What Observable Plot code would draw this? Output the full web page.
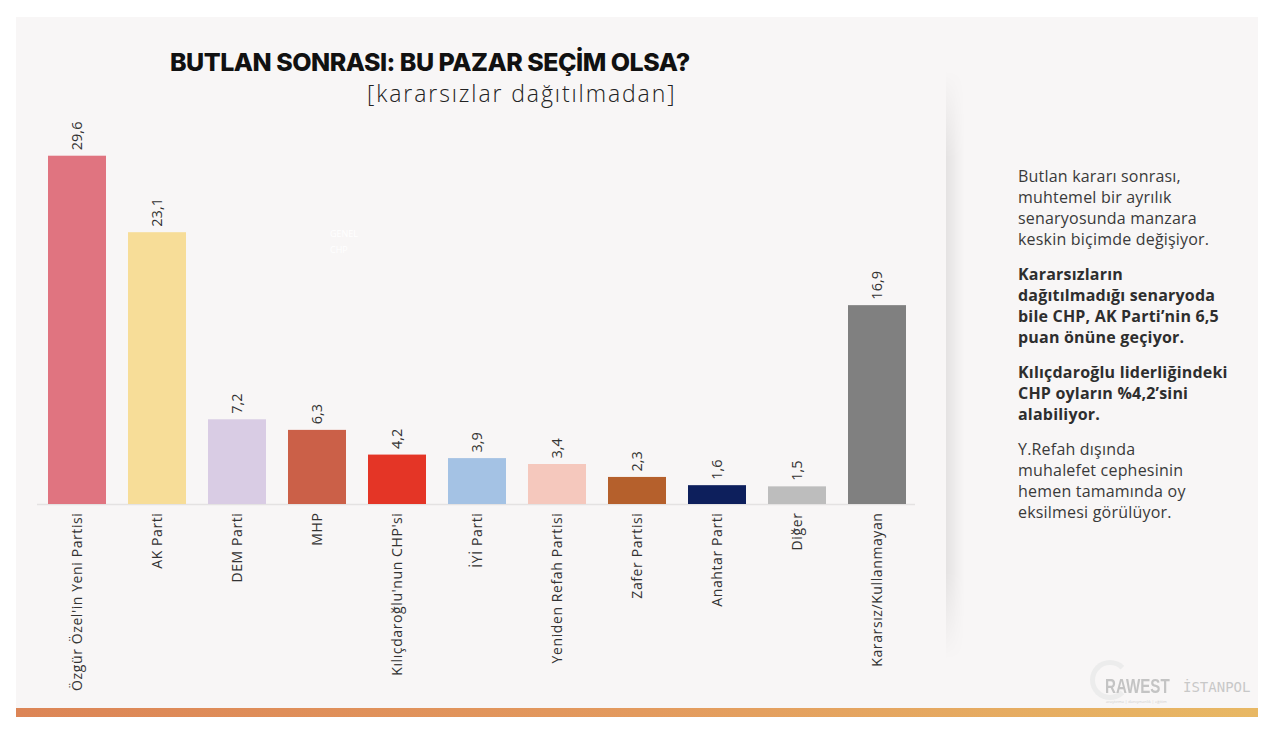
<!DOCTYPE html>
<html>
<head>
<meta charset="utf-8">
<script src="https://cdn.jsdelivr.net/npm/d3@7"></script>
<script src="https://cdn.jsdelivr.net/npm/@observablehq/plot@0.6"></script>
<style>
  html, body { margin: 0; padding: 0; background: #ffffff; width: 1280px; height: 741px; overflow: hidden; }
  body { position: relative; font-family: "Open Sans", sans-serif; }
  #card { position: absolute; left: 16px; top: 17px; width: 1242px; height: 691px; background: #f8f6f6; }
  #band { position: absolute; left: 16px; top: 708px; width: 1242px; height: 9px;
          background: linear-gradient(to right, #dc8556, #e39a5e 50%, #e8b864); }
  #shadow { position: absolute; left: 946px; top: 70px; width: 18px; height: 590px;
            background: linear-gradient(to right, rgba(0,0,0,0.08), rgba(0,0,0,0));
            -webkit-mask-image: linear-gradient(to bottom, transparent, black 15%, black 85%, transparent);
            mask-image: linear-gradient(to bottom, transparent, black 15%, black 85%, transparent); }
  #chart { position: absolute; left: 0; top: 0; }
  #chart svg g[aria-label="x-axis tick label"] { letter-spacing: 0.6px; }
  #title { position: absolute; left: 170px; top: 47px; font-family: "Inter", sans-serif; font-weight: 800;
           font-size: 25px; color: #111; white-space: nowrap; letter-spacing: -0.5px; }
  #subtitle { position: absolute; left: 367px; top: 77px; font-family: "Open Sans", sans-serif; font-weight: 300;
              font-size: 23px; color: #222; white-space: nowrap; letter-spacing: 1.9px; }
  #notes { position: absolute; left: 1018px; top: 166px; font-size: 16px; line-height: 21px; color: #3a3a3a;
           font-family: "Open Sans", sans-serif; white-space: nowrap; letter-spacing: 0.2px; }
  #notes p { margin: 0 0 14px 0; }
  #notes p.b { font-weight: 700; color: #2e2e2e; letter-spacing: 0.2px; }
  #logo1 { position: absolute; left: 1105px; top: 674px; font-family: "Liberation Sans", sans-serif;
           font-weight: 700; font-size: 21px; color: #c4c4c4; transform: scaleX(0.72); transform-origin: left top; }
  #logo1s { position: absolute; left: 1106px; top: 699px; font-size: 4px; color: #cfcfcf; white-space: nowrap; }
  #logo2 { position: absolute; left: 1183px; top: 679px; font-family: "DejaVu Sans Mono", monospace;
           font-size: 14px; color: #c8c8c8; }
  #ring { position: absolute; left: 1090px; top: 660px; width: 30px; height: 30px; border-radius: 50%;
          border: 5px solid #ececec; border-right-color: transparent; }
  #wm { position: absolute; left: 330px; top: 226px; font-size: 9px; color: #ffffff; line-height: 16px; }
</style>
</head>
<body>
<div id="card"></div>
<div id="band"></div>
<div id="shadow"></div>
<div id="ring"></div>
<div id="chart"></div>
<div id="title">BUTLAN SONRASI: BU PAZAR SEÇİM OLSA?</div>
<div id="subtitle">[kararsızlar dağıtılmadan]</div>
<div id="wm">GENEL<br>CHP</div>
<div id="notes">
  <p>Butlan kararı sonrası,<br>muhtemel bir ayrılık<br>senaryosunda manzara<br>keskin biçimde değişiyor.</p>
  <p class="b">Kararsızların<br>dağıtılmadığı senaryoda<br>bile CHP, AK Parti’nin 6,5<br>puan önüne geçiyor.</p>
  <p class="b">Kılıçdaroğlu liderliğindeki<br>CHP oyların %4,2’sini<br>alabiliyor.</p>
  <p>Y.Refah dışında<br>muhalefet cephesinin<br>hemen tamamında oy<br>eksilmesi görülüyor.</p>
</div>
<div id="logo1">RAWEST</div>
<div id="logo1s">araştırma | danışmanlık | eğitim</div>
<div id="logo2">İSTANPOL</div>
<script>
const parties = ["Özgür Özel'in Yeni Partisi", "AK Parti", "DEM Parti", "MHP", "Kılıçdaroğlu'nun CHP'si",
  "İYİ Parti", "Yeniden Refah Partisi", "Zafer Partisi", "Anahtar Parti", "Diğer", "Kararsız/Kullanmayan"];
const values = [29.6, 23.1, 7.2, 6.3, 4.2, 3.9, 3.4, 2.3, 1.6, 1.5, 16.9];
const colors = ["#e07480", "#f7dd98", "#d9cce4", "#cb6048", "#e43526", "#a4c2e4", "#f5c8bd", "#b5602c", "#0d1f5c", "#bdbdbd", "#808080"];

const data = parties.map((p, i) => ({party: p, value: values[i], color: colors[i]}));
const fmt = v => v.toFixed(1).replace(".", ",");

const chart = Plot.plot({
  width: 960,
  height: 700,
  marginLeft: 26,
  marginRight: 32,
  marginTop: 151,
  marginBottom: 196,
  style: {background: "transparent", fontFamily: "'Open Sans', sans-serif", overflow: "visible"},
  x: {domain: parties, padding: 0.275, label: null},
  y: {domain: [0, 30], axis: null},
  marks: [
    Plot.ruleY([0], {stroke: "#e4e2e2", strokeWidth: 1.5, insetLeft: 11, insetRight: 13}),
    Plot.barY(data, {x: "party", y: "value", fill: "color"}),
    Plot.text(data, {x: "party", y: "value", text: d => fmt(d.value), rotate: -90, textAnchor: "start",
      dy: -6, fontSize: 14.5, fontWeight: 500, fill: "#333"}),
    Plot.axisX({tickRotate: -90, tickSize: 0, tickPadding: 8, fontSize: 14, fill: "#333", label: null})
  ]
});
document.getElementById("chart").appendChild(chart);
</script>
</body>
</html>
